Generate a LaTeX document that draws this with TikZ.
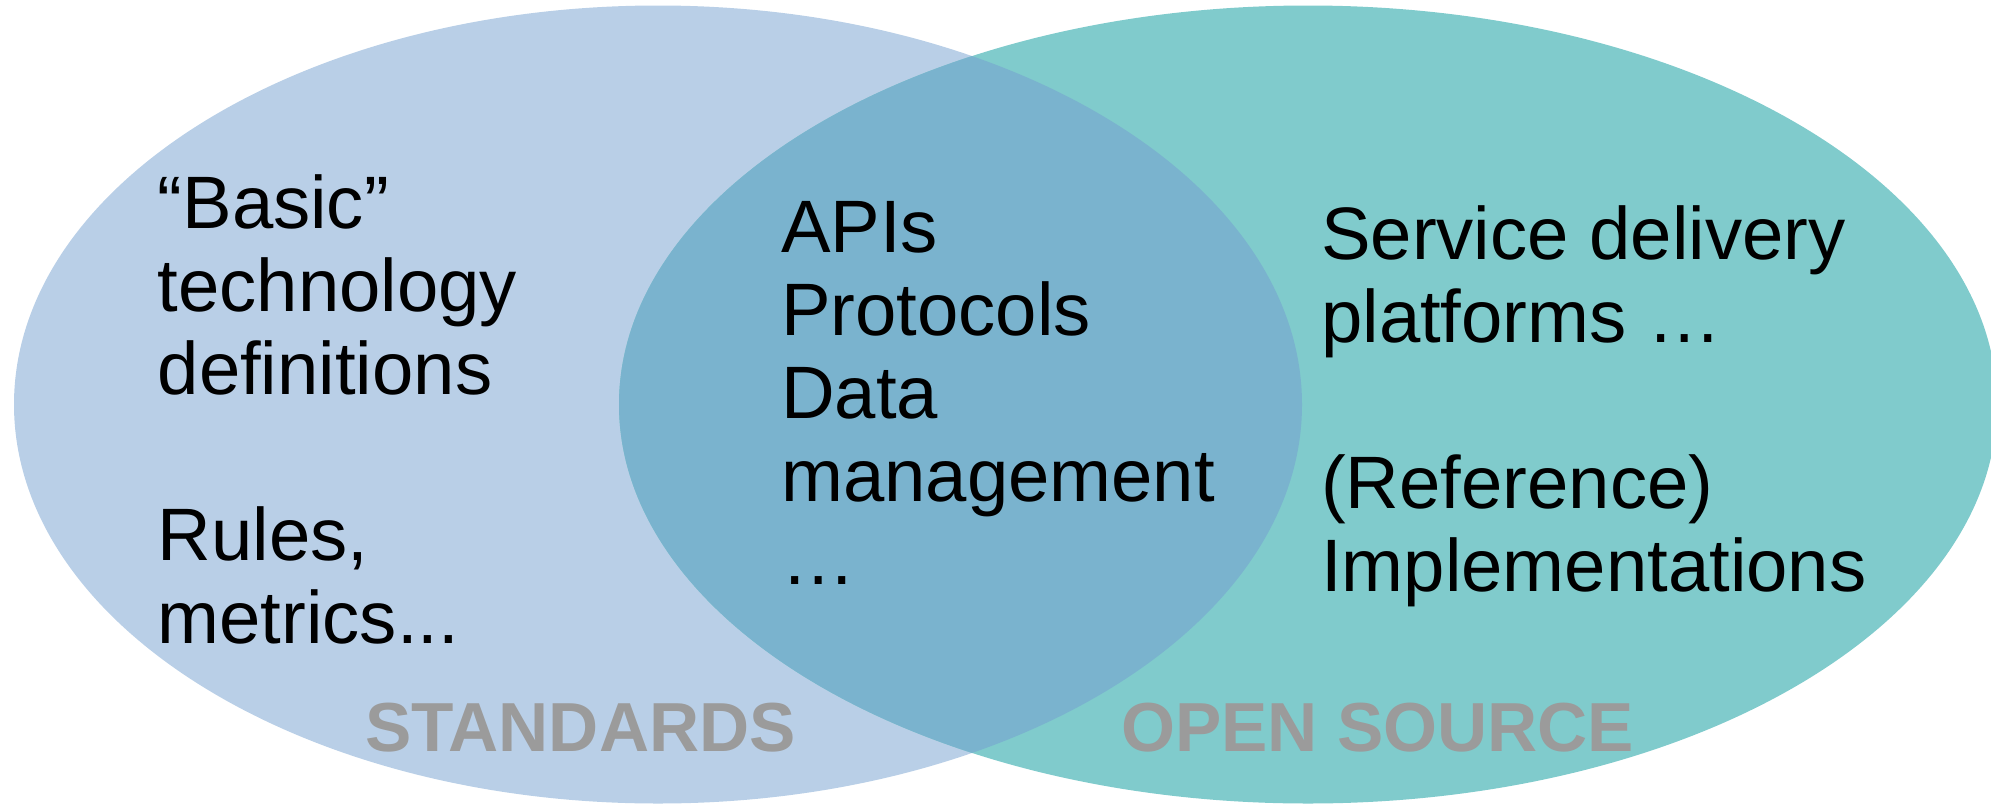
\documentclass[tikz,border=0pt]{standalone}
\usepackage{fontspec}
\setmainfont{Liberation Sans}
\definecolor{stdblue}{HTML}{B9CFE7}
\definecolor{osteal}{HTML}{80CBCC}
\definecolor{overlapc}{HTML}{7AB3CE}
\definecolor{labelgray}{HTML}{9B9B9B}
\begin{document}
\begin{tikzpicture}[x=1pt,y=-1pt,
  body/.style={anchor=base west, inner sep=0pt, font=\fontsize{74.3}{83}\selectfont},
  lbl/.style={anchor=base west, inner sep=0pt, font=\fontsize{69.4}{80}\selectfont\bfseries, text=labelgray}]
\useasboundingbox (0,0) rectangle (1991,806);
\clip (0,0) rectangle (1991,806);
\fill[stdblue] (658,404.5) ellipse [x radius=644, y radius=399];
\fill[osteal] (1308,404.5) ellipse [x radius=689, y radius=399];
\begin{scope}
  \clip (658,404.5) ellipse [x radius=644, y radius=399];
  \fill[overlapc] (1308,404.5) ellipse [x radius=689, y radius=399];
\end{scope}
\node[body] (std) at (157.5,228.3) {\begin{tabular}[t]{@{}l@{}}“Basic”\\technology\\definitions\\ \\Rules,\\metrics...\end{tabular}};
\node[body] (mid) at (781,252.5) {\begin{tabular}[t]{@{}l@{}}APIs\\Protocols\\Data\\management\\…\end{tabular}};
\node[body] (os) at (1321,259.3) {\begin{tabular}[t]{@{}l@{}}Service delivery\\platforms …\\ \\(Reference)\\Implementations\end{tabular}};
\node[lbl] (stdlbl) at (365,751.7) {STANDARDS};
\node[lbl] (oslbl) at (1121,751.7) {OPEN SOURCE};
\end{tikzpicture}
\end{document}
